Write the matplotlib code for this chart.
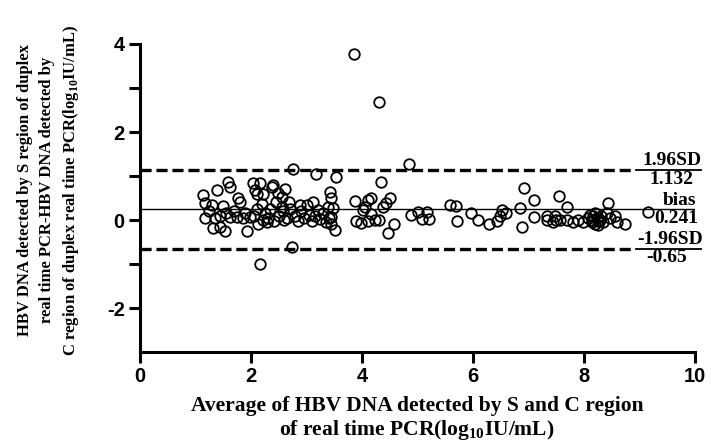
import matplotlib
matplotlib.use("Agg")
import matplotlib.pyplot as plt
import numpy as np

# ---- data ----
x_left = [1.14, 1.38, 1.59, 1.63, 1.17, 1.29, 1.17, 1.35, 1.32, 1.44, 1.53, 1.50,
          1.77, 1.80, 1.92, 1.62, 1.74, 1.86, 1.98, 1.45, 1.70, 1.55, 1.90, 1.25]
y_left = [0.57, 0.68, 0.87, 0.76, 0.38, 0.35, 0.04, 0.05, -0.19, -0.15, -0.24, 0.32,
          0.50, 0.40, -0.24, 0.06, 0.06, 0.05, 0.06, 0.10, 0.20, 0.15, 0.15, 0.20]

x_mid1 = [2.04, 2.16, 2.07, 2.10, 2.22, 2.37, 2.49, 2.55, 2.19, 2.10, 2.25, 2.22,
          2.16, 2.05, 2.30, 2.35, 2.40, 2.42, 2.50, 2.55, 2.60, 2.28, 2.12, 2.45, 2.58]
y_mid1 = [0.83, 0.85, 0.68, 0.58, 0.60, 0.76, 0.61, 0.53, 0.37, 0.24, 0.17, 0.00,
          -1.00, 0.10, 0.05, 0.25, 0.80, -0.02, 0.10, 0.30, 0.00, -0.05, -0.08, 0.40, 0.20]

x_mid2 = [2.76, 2.73, 2.65, 2.70, 2.80, 2.85, 2.90, 2.95, 3.00, 3.05, 3.10, 3.15,
          3.18, 3.20, 3.25, 3.30, 3.35, 3.40, 3.42, 3.45, 3.47, 3.45, 3.45, 3.51,
          3.54, 3.38, 2.68, 2.88, 3.12, 2.62]
y_mid2 = [1.17, -0.61, 0.05, 0.25, 0.10, -0.03, 0.20, 0.05, 0.34, 0.12, -0.02, 0.08,
          1.05, 0.22, 0.02, 0.15, -0.05, 0.05, 0.63, 0.50, 0.28, 0.07, -0.08, -0.23,
          0.98, 0.30, 0.40, 0.35, 0.40, 0.70]

x_mid3 = [3.86, 4.30, 4.85, 4.34, 3.87, 4.05, 4.17, 4.38, 4.50, 4.44, 3.90, 3.99,
          4.11, 4.23, 4.17, 4.58, 4.46, 4.02, 4.11, 4.30,
          4.89, 5.00, 5.08, 5.17, 5.20]
y_mid3 = [3.77, 2.68, 1.27, 0.87, 0.43, 0.30, 0.49, 0.30, 0.49, 0.38, -0.02, -0.06,
          -0.02, -0.01, 0.14, -0.08, -0.30, 0.23, 0.45, 0.00,
          0.11, 0.18, 0.03, 0.18, 0.03]

x_right1 = [5.59, 5.70, 5.72, 5.96, 6.09, 6.28, 6.43, 6.49, 6.52, 6.60, 6.84, 6.92,
            6.88, 7.10, 7.10, 7.33, 7.47, 7.49, 7.55, 7.70, 7.33, 7.45, 7.56, 7.69]
y_right1 = [0.35, 0.32, -0.02, 0.15, -0.01, -0.10, -0.02, 0.08, 0.22, 0.16, 0.27, 0.72,
            -0.15, 0.45, 0.07, 0.08, 0.10, 0.01, 0.55, 0.30, 0.00, -0.04, 0.00, 0.00]

x_right2 = [7.80, 7.90, 7.99, 8.08, 8.14, 8.17, 8.20, 8.23, 8.26, 8.29, 8.44, 8.41,
            8.47, 8.56, 8.59, 8.74, 9.16, 8.10, 8.20, 8.30, 8.25, 8.15, 8.35]
y_right2 = [-0.04, 0.00, -0.04, 0.04, -0.04, 0.08, -0.08, 0.04, -0.11, 0.00, 0.38, 0.15,
            0.05, 0.08, -0.04, -0.08, 0.19, 0.12, 0.15, 0.08, -0.02, 0.00, -0.05]

bias = 0.241
upper_loa = 1.132
lower_loa = -0.65

x_ticks = [0, 2, 4, 6, 8, 10]
y_ticks = [-2, 0, 2, 4]
y_minor = [-1, 1, 3]

xs = np.array(x_left + x_mid1 + x_mid2 + x_mid3 + x_right1 + x_right2)
ys = np.array(y_left + y_mid1 + y_mid2 + y_mid3 + y_right1 + y_right2)

# ---- figure ----
plt.rcParams['lines.scale_dashes'] = False
plt.rcParams['mathtext.fontset'] = 'custom'
plt.rcParams['mathtext.rm'] = 'Liberation Serif:bold'
plt.rcParams['mathtext.bf'] = 'Liberation Serif:bold'

fig = plt.figure(figsize=(7.11, 4.44), dpi=100)
ax = fig.add_axes([140/711, 1-352/444, 555/711, 308/444])

ax.plot(xs, ys, linestyle='none', marker='o', markersize=7.6,
        markerfacecolor='none', markeredgecolor='black', markeredgewidth=1.3)

ax.plot([0, 10], [bias, bias], color='black', lw=1.0)
ax.plot([0, 8.9], [upper_loa, upper_loa], color='black', lw=2.4, dashes=(8, 3.5))
ax.plot([0, 8.9], [lower_loa, lower_loa], color='black', lw=2.4, dashes=(8, 3.5))
ax.plot([8.93, 10.1], [upper_loa, upper_loa], color='black', lw=1.3, clip_on=False)
ax.plot([8.93, 10.1], [lower_loa, lower_loa], color='black', lw=1.3, clip_on=False)

tfont = dict(family='Liberation Serif', weight='bold', fontsize=14, color='black')
tx = 9.58
ax.annotate('1.96SD', (tx, upper_loa), xytext=(0, 0.5), textcoords='offset points',
            ha='center', va='bottom', annotation_clip=False, **tfont)
ax.annotate('1.132', (tx, upper_loa), xytext=(0, -0.5), textcoords='offset points',
            ha='center', va='top', annotation_clip=False, **tfont)
ax.annotate('bias', (tx + 0.14, bias), xytext=(0, 0.5), textcoords='offset points',
            ha='center', va='bottom', annotation_clip=False, **tfont)
ax.annotate('0.241', (tx + 0.08, bias), xytext=(0, -0.5), textcoords='offset points',
            ha='center', va='top', annotation_clip=False, **tfont)
ax.annotate('-1.96SD', (tx - 0.02, lower_loa), xytext=(0, 0.5), textcoords='offset points',
            ha='center', va='bottom', annotation_clip=False, **tfont)
ax.annotate('-0.65', (tx - 0.1, lower_loa), xytext=(0, -0.5), textcoords='offset points',
            ha='center', va='top', annotation_clip=False, **tfont)

ax.set_xlim(0, 10)
ax.set_ylim(-3, 4)
ax.set_xticks(x_ticks)
ax.set_yticks(y_ticks)
ax.set_yticks(y_minor, minor=True)
ax.set_xticklabels([str(t) for t in x_ticks])
ax.set_yticklabels([str(t) for t in y_ticks])

for s in ['top', 'right']:
    ax.spines[s].set_visible(False)
for s in ['left', 'bottom']:
    ax.spines[s].set_linewidth(2.2)
ax.tick_params(axis='both', which='both', direction='out', width=2.2, length=8,
               labelsize=14.5, pad=3)
ax.tick_params(axis='y', which='minor', length=8, width=2.2)
for lab in ax.get_xticklabels() + ax.get_yticklabels():
    lab.set_fontfamily('Liberation Sans')
    lab.set_fontweight('bold')

lfont = dict(family='Liberation Serif', weight='bold', fontsize=12, color='black')
fig.text(49/711, 1-190/444,
         'HBV DNA detected by S region of duplex\n'
         'real time PCR-HBV DNA detected by\n'
         r'C region of duplex real time PCR(log$_{\mathbf{10}}$IU/mL)',
         rotation=90, ha='center', va='center', linespacing=1.45, **lfont)
fig.text(417/711, 1-419/444,
         'Average of HBV DNA detected by S and C region\n'
         r'of real time PCR(log$_{\mathbf{10}}$IU/mL)',
         ha='center', va='center', linespacing=1.1,
         family='Liberation Serif', weight='bold', fontsize=15.5, color='black')

fig.savefig('out.png', dpi=100)
